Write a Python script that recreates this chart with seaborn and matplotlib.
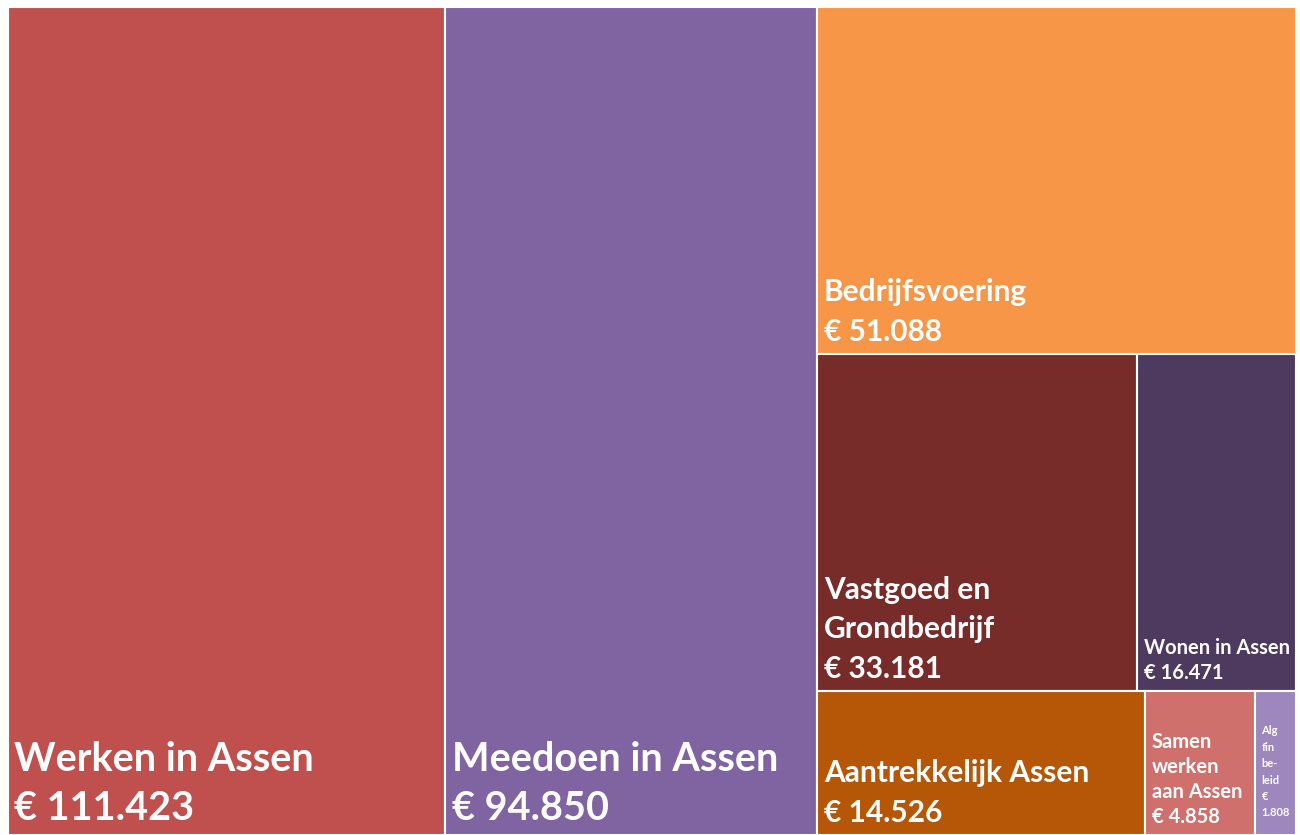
import matplotlib.pyplot as plt
import seaborn as sns

sns.set_theme(style="white")
plt.rcParams["font.family"] = ["Lato", "DejaVu Sans"]

# Data (x 1.000 euro)
categories = ["Werken in Assen", "Meedoen in Assen", "Bedrijfsvoering",
              "Vastgoed en Grondbedrijf", "Wonen in Assen", "Aantrekkelijk Assen",
              "Samen werken aan Assen", "Alg fin beleid"]
values = [111423, 94850, 51088, 33181, 16471, 14526, 4858, 1808]
labels = ["Werken in Assen", "Meedoen in Assen", "Bedrijfsvoering",
          "Vastgoed en\nGrondbedrijf", "Wonen in Assen", "Aantrekkelijk Assen",
          "Samen\nwerken\naan Assen", "Alg\nfin\nbe-\nleid"]
colors = ["#C0504D", "#8064A2", "#F79646", "#772C2A",
          "#4F3A5F", "#B65708", "#D0706D", "#9D87BC"]
font_sizes = [28.5, 28.5, 21.5, 21.5, 14.5, 21.5, 14.5, 8]
line_gaps = [1.4, 1.4, 1.5, 1.5, 1.3, 1.5, 1.3, 1.6]

# how the tiles are nested: columns -> rows -> columns
groups = [0, 1, [2, [3, 4], [5, 6, 7]]]


def total(node):
    if isinstance(node, list):
        return sum(total(n) for n in node)
    return values[node]


def layout(node, x, y, w, h, horizontal, out):
    if not isinstance(node, list):
        out[node] = (x, y, w, h)
        return
    s = total(node)
    for child in node:
        frac = total(child) / s
        if horizontal:
            layout(child, x, y, w * frac, h, not horizontal, out)
            x += w * frac
        else:
            layout(child, x, y, w, h * frac, not horizontal, out)
            y += h * frac


rects = {}
layout(groups, 0, 0, 1, 1, True, rects)

fig = plt.figure(figsize=(13, 8.35), dpi=100)
fig.patch.set_facecolor("white")
ax = fig.add_axes([8 / 1300, 0, 1288 / 1300, 828 / 835])

for i in range(len(values)):
    x, y, w, h = rects[i]
    ax.bar(x, h, width=w, bottom=y, align="edge", color=colors[i],
           edgecolor="white", linewidth=1.5)
    value_txt = "€ " + f"{values[i]:,}".replace(",", ".")
    pad_y = 6
    if w * 1288 < 60:
        value_txt = value_txt.replace(" ", "\n")
        pad_y = 12
    ax.annotate(labels[i] + "\n" + value_txt, xy=(x, y + h),
                xytext=(4.5, pad_y), textcoords="offset points",
                ha="left", va="bottom", color="white", fontweight="bold",
                fontsize=font_sizes[i], linespacing=line_gaps[i])

ax.set_xlim(0, 1)
ax.set_ylim(0, 1)
ax.invert_yaxis()
ax.set_axis_off()

plt.savefig("out.png", dpi=100)
